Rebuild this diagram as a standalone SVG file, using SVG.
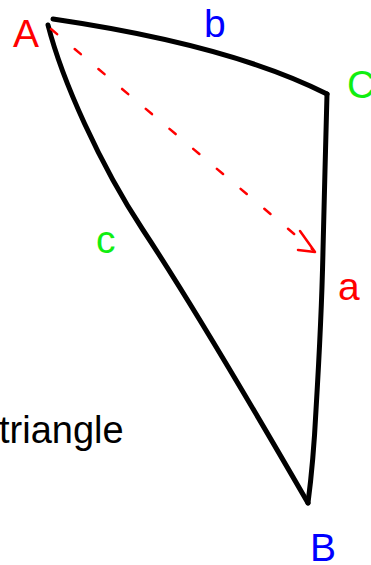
<svg xmlns="http://www.w3.org/2000/svg" width="371" height="565" viewBox="0 0 371 565">
  <style>
    .lbl { font-family: "Liberation Sans", Arial, sans-serif; font-size: 39px; }
    .red { fill: #ff0000; }
    .blue { fill: #0000ff; }
    .green { fill: #11ee11; }
    .edge { fill: none; stroke: #000; stroke-width: 5; stroke-linecap: round; stroke-linejoin: round; }
    .dash { fill: none; stroke: #ff0000; stroke-width: 2.5; stroke-linecap: round; stroke-dasharray: 8 23; }
    .head { fill: none; stroke: #ff0000; stroke-width: 2.5; stroke-linecap: round; stroke-linejoin: round; }
  </style>
  <rect width="371" height="565" fill="#ffffff"/>
  <g id="connectors">
    <path id="edge-b" class="edge" d="M53,19 Q230,45 327,94"/>
    <path id="edge-a" class="edge" d="M327,94 L325,170 L323,250 C322,300 319,360 316,410 C314,450 311,480 308,503"/>
    <path id="edge-c" class="edge" d="M48,25 C62,80 100,165 143,230 C186,295 260,420 308,503"/>
    <path id="arrow-dash" class="dash" d="M51,29 L312,249"/>
    <path id="arrow-head" class="head" d="M300,231 L315,252 L298,250"/>
  </g>
  <g id="node-A"><text class="lbl red" x="13" y="47">A</text></g>
  <g id="node-C"><text class="lbl green" x="347" y="98">C</text></g>
  <g id="node-B"><text class="lbl blue" x="310" y="561">B</text></g>
  <g id="label-b"><text class="lbl blue" x="204" y="37">b</text></g>
  <g id="label-a"><text class="lbl red" x="338" y="300">a</text></g>
  <g id="label-c"><text class="lbl green" x="96" y="253">c</text></g>
  <g id="label-triangle"><text class="lbl" style="font-size:38px" fill="#000" x="-1" y="443">triangle</text></g>
</svg>
